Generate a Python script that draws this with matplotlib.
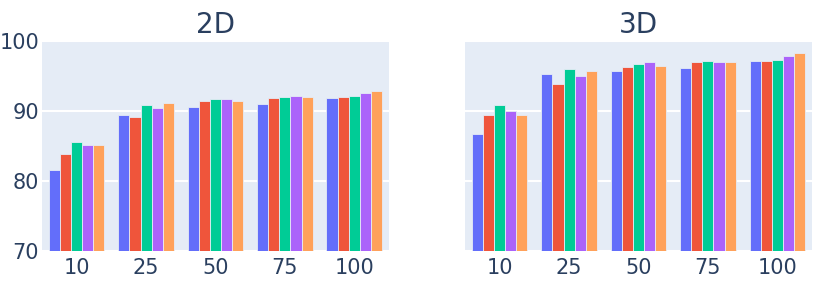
import matplotlib
matplotlib.use("Agg")
import matplotlib.pyplot as plt
import numpy as np

categories = ["10", "25", "50", "75", "100"]
colours = ["#636EFA", "#EF553B", "#00CC96", "#AB63FA", "#FFA15A"]

# one list per series, values per category
scores_2d = [
    [81.6, 89.4, 90.6, 91.0, 91.85],
    [83.8, 89.1, 91.4, 91.85, 91.95],
    [85.6, 90.9, 91.75, 91.95, 92.1],
    [85.1, 90.5, 91.75, 92.1, 92.65],
    [85.2, 91.2, 91.4, 92.0, 92.85],
]
scores_3d = [
    [86.65, 95.3, 95.7, 96.1, 97.1],
    [89.45, 93.9, 96.3, 97.0, 97.1],
    [90.9, 95.95, 96.75, 97.2, 97.25],
    [90.0, 95.0, 97.05, 97.05, 97.85],
    [89.45, 95.75, 96.4, 96.95, 98.25],
]
titles = ["2D", "3D"]
y_ticks = [70, 80, 90, 100]

font_colour = "#2a3f5f"
plt.rcParams["font.family"] = ["DejaVu Sans"]

fig = plt.figure(figsize=(8.23, 2.86), dpi=100)
ax_left = fig.add_axes([0.051, 0.1224, 0.4216, 0.734])
ax_right = fig.add_axes([0.565, 0.1224, 0.4216, 0.734])

x = np.arange(len(categories))
bar_width = 0.8 / len(colours)

for ax, data, title in zip((ax_left, ax_right), (scores_2d, scores_3d), titles):
    ax.set_facecolor("#E5ECF6")
    for ii, (series, colour) in enumerate(zip(data, colours)):
        offset = (ii - (len(colours) - 1) / 2) * bar_width
        ax.bar(x + offset, series, bar_width, color=colour,
               edgecolor="#E5ECF6", linewidth=0.6, zorder=3)
    ax.set_ylim(70, 100)
    ax.set_xlim(-0.5, len(categories) - 0.5)
    ax.set_yticks(y_ticks)
    ax.grid(axis="y", color="white", linewidth=1.5, zorder=1)
    ax.set_xticks(x)
    ax.set_xticklabels(categories)
    for spine in ax.spines.values():
        spine.set_visible(False)
    ax.tick_params(length=0, labelsize=15, colors=font_colour)
    ax.tick_params(axis="x", pad=5)
    ax.tick_params(axis="y", pad=2)
    ax.set_title(title, fontsize=20, color=font_colour, pad=6)

ax_right.tick_params(axis="y", labelleft=False)

fig.savefig("out.png", dpi=100)
